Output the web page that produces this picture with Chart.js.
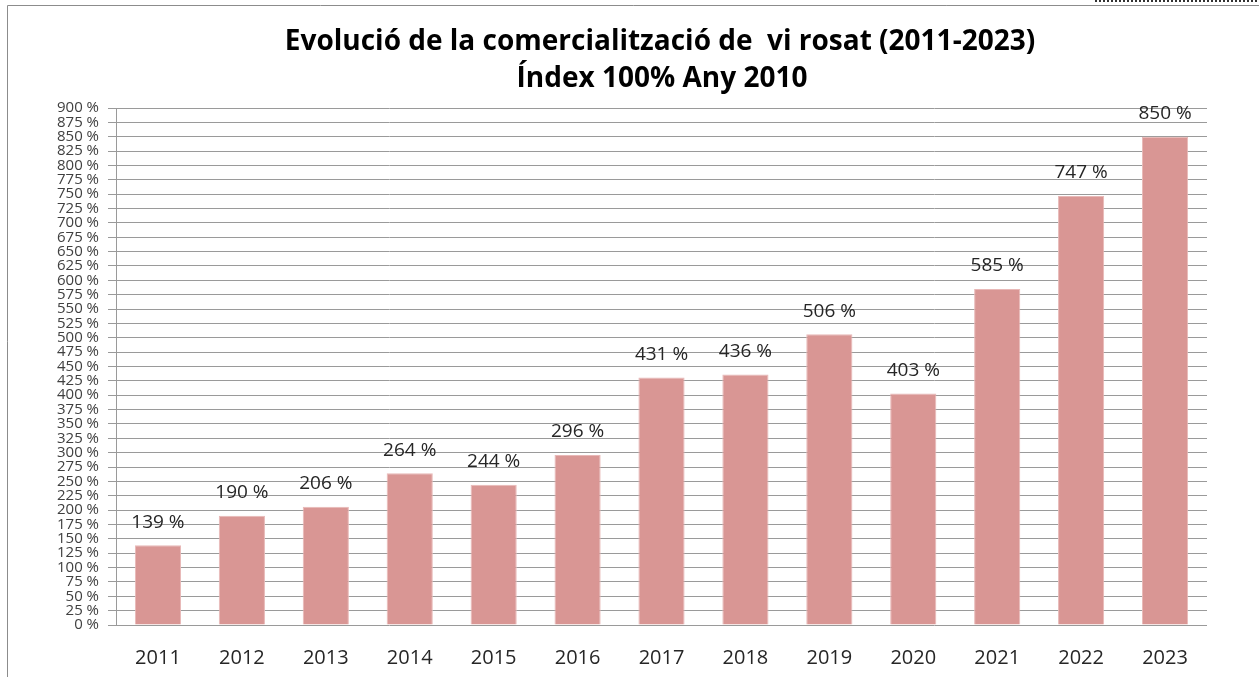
<!DOCTYPE html>
<html>
<head>
<meta charset="utf-8">
<script src="https://cdn.jsdelivr.net/npm/chart.js@4"></script>
<style>
  html, body { margin: 0; padding: 0; background: #fff; }
  #wrap { width: 1259px; height: 677px; }
</style>
</head>
<body>
<div id="wrap"><canvas id="chart" width="1259" height="677"></canvas></div>
<script>
const years = ['2011', '2012', '2013', '2014', '2015', '2016', '2017', '2018', '2019', '2020', '2021', '2022', '2023'];
const indexValues = [139, 190, 206, 264, 244, 296, 431, 436, 506, 403, 585, 747, 850];
const titleLines = ['Evolució de la comercialització de  vi rosat (2011-2023)', 'Índex 100% Any 2010'];

// frame, title and value labels
const decorations = {
  id: 'decorations',
  afterDraw(chart) {
    const ctx = chart.ctx;
    ctx.save();
    // outer frame (only left and top edges visible)
    ctx.strokeStyle = '#8c8c8c';
    ctx.lineWidth = 1;
    ctx.beginPath();
    ctx.moveTo(7.5, 677);
    ctx.lineTo(7.5, 5.5);
    ctx.lineTo(1259, 5.5);
    ctx.stroke();
    // dotted strip in the top right corner
    ctx.strokeStyle = '#333';
    ctx.lineWidth = 2;
    ctx.setLineDash([2, 2]);
    ctx.beginPath();
    ctx.moveTo(1095, 1);
    ctx.lineTo(1259, 1);
    ctx.stroke();
    ctx.setLineDash([]);

    // title
    ctx.fillStyle = '#000';
    ctx.font = 'bold 28px "Open Sans"';
    ctx.textAlign = 'center';
    ctx.textBaseline = 'middle';
    ctx.fillText(titleLines[0], 660, 42);
    ctx.fillText(titleLines[1], 662, 79);

    // value labels above bars
    ctx.font = '19px "Open Sans"';
    ctx.fillStyle = '#262626';
    const meta = chart.getDatasetMeta(0);
    meta.data.forEach((bar, i) => {
      ctx.fillText(indexValues[i] + ' %', bar.x, bar.y - 23);
    });
    ctx.restore();
  }
};

new Chart(document.getElementById('chart'), {
  type: 'bar',
  data: {
    labels: years,
    datasets: [{
      data: indexValues,
      backgroundColor: '#d99694',
      borderColor: '#e8b8b7',
      borderWidth: 1,
      barPercentage: 0.55,
      categoryPercentage: 1
    }]
  },
  options: {
    responsive: false,
    animation: false,
    layout: { padding: { left: 0, top: 108, right: 52, bottom: 0 } },
    plugins: {
      legend: { display: false },
      tooltip: { enabled: false }
    },
    scales: {
      x: {
        grid: { display: false, drawTicks: false },
        border: { display: false },
        ticks: {
          color: '#262626',
          font: { family: 'Open Sans', size: 20 },
          padding: 21
        },
        afterFit(scale) { scale.height = 52; }
      },
      y: {
        min: 0,
        max: 900,
        grid: { color: '#9a9a9a', lineWidth: 1, tickLength: 8 },
        border: { display: true, color: '#9a9a9a' },
        ticks: {
          stepSize: 25,
          autoSkip: false,
          color: '#404040',
          padding: 9,
          font: { family: 'Open Sans', size: 15, lineHeight: 1 },
          callback: v => v + ' %'
        },
        afterFit(scale) { scale.width = 116; }
      }
    }
  },
  plugins: [decorations]
});
</script>
</body>
</html>
